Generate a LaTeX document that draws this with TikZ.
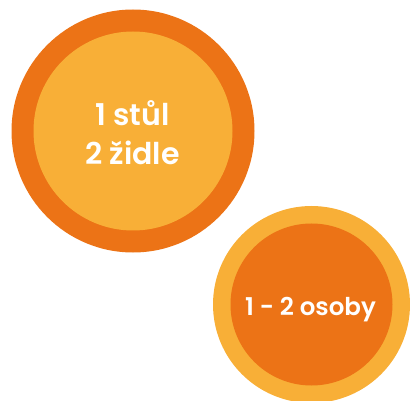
\documentclass[tikz,border=0pt]{standalone}
\usepackage{fontspec}
\setmainfont{Poppins}[BoldFont={Poppins SemiBold}]
\definecolor{darko}{HTML}{EC7316}
\definecolor{lighto}{HTML}{F8AF37}
\tikzset{disc/.style={circle,inner sep=0pt,minimum size=#1},
 lab/.style={text=white,align=center,font=\fontsize{30}{39}\selectfont\bfseries}}
\begin{document}
\begin{tikzpicture}[x=1pt,y=-1pt]
\useasboundingbox (0,0) rectangle (410,401);
\node[disc=243,fill=darko] (outerA) at (133,131) {};
\node[disc=199,fill=lighto] (innerA) at (133,131) {};
\node[lab] (textA) at (132.5,133) {1 stůl\\2 židle};
\node[disc=197,fill=lighto] (outerB) at (311.5,304.5) {};
\node[disc=162,fill=darko] (innerB) at (311.5,304.5) {};
\node[lab,font=\fontsize{24.5}{30}\selectfont\bfseries] (textB) at (310.5,310) {1 - 2 osoby};
\end{tikzpicture}
\end{document}
